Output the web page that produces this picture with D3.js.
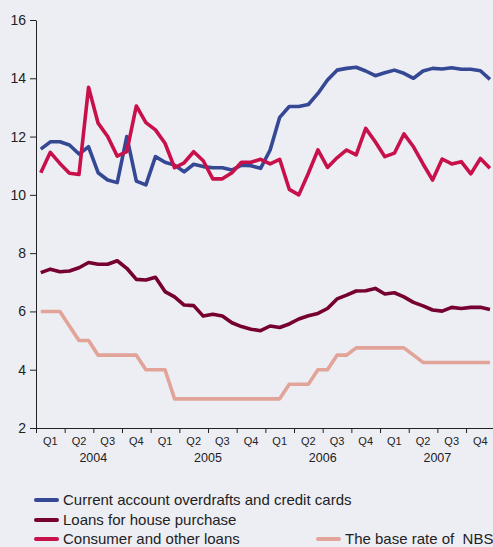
<!DOCTYPE html>
<html>
<head>
<meta charset="utf-8">
<script src="https://cdn.jsdelivr.net/npm/d3@7"></script>
<style>
  html, body { margin: 0; padding: 0; background: #edeef4; }
  svg { display: block; }
  text { font-family: "Liberation Sans", Arial, sans-serif; fill: #222; }
</style>
</head>
<body>
<svg id="chart" width="493" height="547"></svg>
<script>
// Monthly interest rates, Jan 2004 – Dec 2007 (%)
const years = ["2004", "2005", "2006", "2007"];
const quarters = ["Q1", "Q2", "Q3", "Q4"];
const yTicks = [2, 4, 6, 8, 10, 12, 14, 16];

const overdrafts = [11.57, 11.82, 11.82, 11.71, 11.40, 11.65, 10.76, 10.51, 10.42, 12.00, 10.47, 10.34,
  11.31, 11.12, 11.02, 10.79, 11.05, 10.97, 10.93, 10.93, 10.85, 11.02, 11.00, 10.91,
  11.54, 12.66, 13.03, 13.03, 13.10, 13.48, 13.94, 14.28, 14.34, 14.38, 14.25, 14.09,
  14.19, 14.28, 14.17, 14.00, 14.25, 14.34, 14.32, 14.36, 14.31, 14.31, 14.26, 13.96];

const housePurchase = [7.33, 7.45, 7.36, 7.39, 7.50, 7.68, 7.62, 7.62, 7.74, 7.48, 7.10, 7.08,
  7.17, 6.68, 6.50, 6.22, 6.20, 5.84, 5.90, 5.84, 5.61, 5.48, 5.39, 5.34,
  5.50, 5.45, 5.57, 5.74, 5.85, 5.93, 6.10, 6.43, 6.56, 6.70, 6.71, 6.79,
  6.60, 6.64, 6.50, 6.31, 6.19, 6.05, 6.01, 6.14, 6.10, 6.14, 6.14, 6.07];

const consumerLoans = [10.76, 11.46, 11.08, 10.74, 10.70, 13.69, 12.46, 12.00, 11.33, 11.48, 13.05, 12.48,
  12.23, 11.77, 10.93, 11.10, 11.48, 11.17, 10.55, 10.55, 10.76, 11.12, 11.12, 11.22,
  11.06, 11.22, 10.19, 10.00, 10.74, 11.54, 10.94, 11.27, 11.54, 11.37, 12.28, 11.82,
  11.31, 11.43, 12.09, 11.65, 11.06, 10.51, 11.23, 11.06, 11.14, 10.72, 11.25, 10.91];

const baseRate = [6.00, 6.00, 6.00, 5.50, 5.00, 5.00, 4.50, 4.50, 4.50, 4.50, 4.50, 4.00,
  4.00, 4.00, 3.00, 3.00, 3.00, 3.00, 3.00, 3.00, 3.00, 3.00, 3.00, 3.00,
  3.00, 3.00, 3.50, 3.50, 3.50, 4.00, 4.00, 4.50, 4.50, 4.75, 4.75, 4.75,
  4.75, 4.75, 4.75, 4.50, 4.25, 4.25, 4.25, 4.25, 4.25, 4.25, 4.25, 4.25];

const series = [
  { name: "Current account overdrafts and credit cards", values: overdrafts, color: "#354894" },
  { name: "Loans for house purchase", values: housePurchase, color: "#760031" },
  { name: "Consumer and other loans", values: consumerLoans, color: "#c8104a" },
  { name: "The base rate of  NBS", values: baseRate, color: "#e2a398" }
];

const svg = d3.select("#chart");
const plotLeft = 36, plotTop = 20, plotBottom = 428;
const nMonths = 48;
const monthW = 28.67 / 3;

const x = d3.scaleLinear().domain([0, nMonths]).range([plotLeft, plotLeft + nMonths * monthW]);
const y = d3.scaleLinear().domain([2, 16]).range([plotBottom, plotTop]);

// y axis
const yAxis = svg.append("g")
  .attr("transform", `translate(${plotLeft},0)`)
  .call(d3.axisLeft(y).tickValues(yTicks).tickSize(6).tickSizeOuter(0).tickPadding(4));
yAxis.selectAll("text").style("font-size", "14px").style("font-family", "Liberation Sans, Arial, sans-serif").attr("fill", "#222");
yAxis.selectAll("line, path").attr("stroke", "#222");

// x axis: ticks on quarter boundaries
const qTicks = d3.range(0, nMonths + 1, 3);
const xAxis = svg.append("g")
  .attr("transform", `translate(0,${plotBottom})`)
  .call(d3.axisBottom(x).tickValues(qTicks).tickSize(5).tickSizeOuter(0).tickFormat(""));
xAxis.select("path.domain").attr("d", `M${plotLeft},0.5H493`);
xAxis.selectAll("line, path").attr("stroke", "#222");

// quarter labels
const qLabels = d3.range(16).map(i => ({ i, label: quarters[i % 4] }));
svg.append("g").selectAll("text").data(qLabels).join("text")
  .attr("x", d => x(d.i * 3 + 1.5))
  .attr("y", plotBottom + 17)
  .attr("text-anchor", "middle")
  .style("font-size", "11px")
  .text(d => d.label);

// year labels
svg.append("g").selectAll("text").data(years).join("text")
  .attr("x", (d, i) => x(i * 12 + 6))
  .attr("y", plotBottom + 34)
  .attr("text-anchor", "middle")
  .style("font-size", "12.5px")
  .text(d => d);

// data lines
const line = d3.line()
  .x((d, i) => x(i + 0.5))
  .y(d => y(d));

const drawOrder = [3, 1, 0, 2];
svg.append("g").selectAll("path").data(drawOrder.map(k => series[k])).join("path")
  .attr("d", d => line(d.values))
  .attr("fill", "none")
  .attr("stroke", d => d.color)
  .attr("stroke-width", 3.6)
  .attr("stroke-linejoin", "round");

// legend
const legendPos = [
  { x: 36, y: 500 },
  { x: 36, y: 520 },
  { x: 36, y: 539 },
  { x: 318, y: 539 }
];
const legend = svg.append("g").selectAll("g").data(series).join("g")
  .attr("transform", (d, i) => `translate(${legendPos[i].x},${legendPos[i].y})`);
legend.append("line")
  .attr("x1", 0).attr("x2", 21)
  .attr("stroke", d => d.color)
  .attr("stroke-width", 4)
  .attr("stroke-linecap", "round");
legend.append("text")
  .attr("x", 27)
  .attr("y", 5)
  .style("font-size", "15px")
  .style("white-space", "pre")
  .text(d => d.name);
</script>
</body>
</html>
